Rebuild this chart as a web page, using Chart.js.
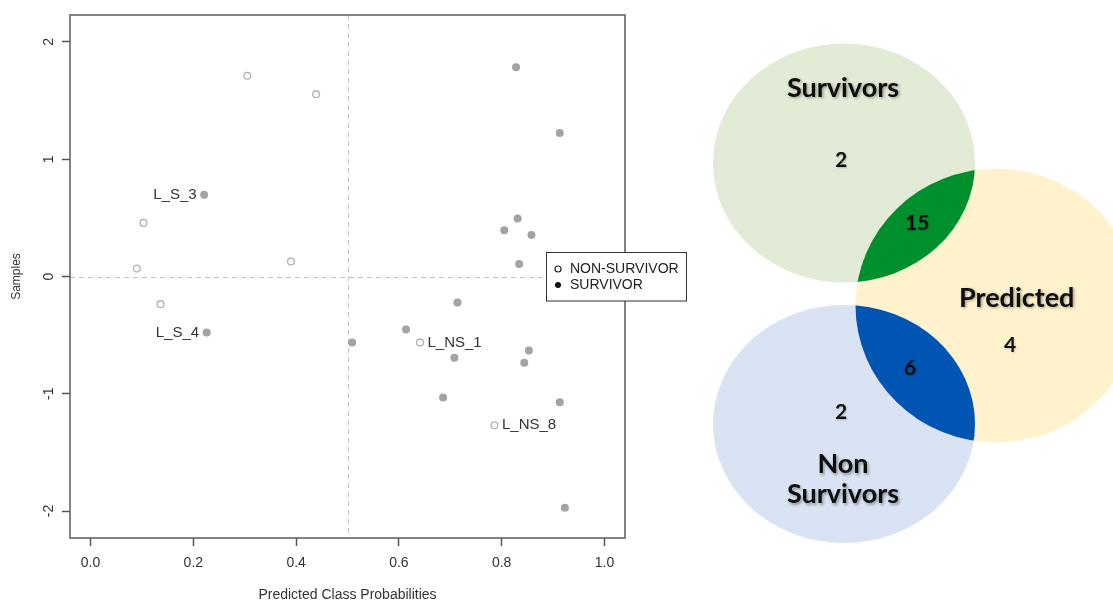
<!DOCTYPE html>
<html>
<head>
<meta charset="utf-8">
<script src="https://cdn.jsdelivr.net/npm/chart.js@4.4.1/dist/chart.umd.min.js"></script>
<style>
  html, body { margin: 0; padding: 0; background: #fff; overflow: hidden; }
  #wrap { position: relative; width: 1113px; height: 602px; }
  #scatterChart { position: absolute; left: 0; top: 0; }
  #vennChart { position: absolute; left: 700px; top: 0; }
</style>
</head>
<body>
<div id="wrap">
  <canvas id="scatterChart" width="700" height="602"></canvas>
  <canvas id="vennChart" width="413" height="602"></canvas>
</div>
<script>
// Predicted class probability (x) and sample score (y) for each group
const nonSurvivorProb   = [0.305, 0.439, 0.103, 0.090, 0.390, 0.136, 0.641, 0.786];
const nonSurvivorSample = [1.712, 1.555, 0.457, 0.068, 0.128, -0.236, -0.562, -1.269];
const nonSurvivorTags   = ['', '', '', '', '', '', 'L_NS_1', 'L_NS_8'];

const survivorProb   = [0.221, 0.226, 0.509, 0.828, 0.913, 0.831, 0.805, 0.858, 0.834,
                        0.714, 0.614, 0.708, 0.853, 0.844, 0.686, 0.913, 0.923];
const survivorSample = [0.698, -0.477, -0.562, 1.785, 1.223, 0.494, 0.394, 0.354, 0.107,
                        -0.221, -0.451, -0.693, -0.630, -0.736, -1.031, -1.073, -1.971];
const survivorTags   = ['L_S_3', 'L_S_4', '', '', '', '', '', '', '', '', '', '', '', '', '', '', ''];

const xTickLabels = ['0.0', '0.2', '0.4', '0.6', '0.8', '1.0'];
const yTickLabels = ['-2', '-1', '0', '1', '2'];
const cutoffProb = 0.5;
const cutoffSample = 0;

// Venn counts
const vennSetNames = ['Survivors', 'Predicted', 'Non Survivors'];
const vennOnlyCounts = [2, 4, 2];
const vennOverlapCounts = [15, 6];   // survivors & predicted, non survivors & predicted

const axisFont = { family: 'Liberation Sans', size: 14 };

// box, cut-off lines, rotated y labels, point tags and legend
const scatterDecor = {
    id: 'scatterDecor',
    beforeDatasetsDraw(chart) {
        const { ctx, chartArea: a, scales: { x, y } } = chart;
        ctx.save();
        ctx.strokeStyle = '#c4c4c4';
        ctx.lineWidth = 1;
        ctx.setLineDash([5, 4]);
        ctx.beginPath();
        const vx = Math.round(x.getPixelForValue(cutoffProb)) + 0.5;
        const hy = Math.round(y.getPixelForValue(cutoffSample)) + 0.5;
        ctx.moveTo(vx, a.top); ctx.lineTo(vx, a.bottom);
        ctx.moveTo(a.left, hy); ctx.lineTo(a.right, hy);
        ctx.stroke();
        ctx.setLineDash([]);
        ctx.strokeStyle = '#5a5a5a';
        ctx.lineWidth = 1.5;
        ctx.strokeRect(a.left, a.top, a.right - a.left, a.bottom - a.top);
        ctx.restore();
    },
    afterDraw(chart) {
        const { ctx, scales: { x, y } } = chart;
        ctx.save();
        ctx.fillStyle = '#333';
        ctx.font = '14px "Liberation Sans"';
        ctx.textAlign = 'center';
        ctx.textBaseline = 'middle';
        y.ticks.forEach((t, i) => {
            ctx.save();
            ctx.translate(49, y.getPixelForValue(t.value));
            ctx.rotate(-Math.PI / 2);
            ctx.fillText(yTickLabels[i], 0, 0);
            ctx.restore();
        });

        ctx.font = '15px "Liberation Sans"';
        ctx.fillStyle = '#333';
        chart.getDatasetMeta(0).data.forEach((pt, i) => {
            if (!nonSurvivorTags[i]) return;
            ctx.textAlign = 'left';
            ctx.fillText(nonSurvivorTags[i], pt.x + 7.5, pt.y);
        });
        chart.getDatasetMeta(1).data.forEach((pt, i) => {
            if (!survivorTags[i]) return;
            ctx.textAlign = 'right';
            ctx.fillText(survivorTags[i], pt.x - 7.5, pt.y);
        });

        // legend box
        const lx = 546.5, ly = 252.5, lw = 140, lh = 48.5;
        ctx.fillStyle = '#fff';
        ctx.fillRect(lx, ly, lw, lh);
        ctx.strokeStyle = '#333';
        ctx.lineWidth = 1;
        ctx.strokeRect(lx, ly, lw, lh);
        ctx.font = '14px "Liberation Sans"';
        ctx.textAlign = 'left';
        chart.data.datasets.forEach((ds, i) => {
            const cy = ly + 16.5 + i * 16;
            ctx.beginPath();
            ctx.arc(lx + 11.5, cy, 3, 0, Math.PI * 2);
            if (i === 0) {
                ctx.strokeStyle = '#222';
                ctx.lineWidth = 1.2;
                ctx.stroke();
            } else {
                ctx.fillStyle = '#111';
                ctx.fill();
            }
            ctx.fillStyle = '#222';
            ctx.fillText(ds.label, lx + 23.5, cy + 0.5);
        });
        ctx.restore();
    }
};

new Chart(document.getElementById('scatterChart'), {
    type: 'scatter',
    data: {
        datasets: [{
            label: 'NON-SURVIVOR',
            data: nonSurvivorProb.map((p, i) => ({ x: p, y: nonSurvivorSample[i] })),
            pointRadius: 3.4,
            borderWidth: 1.3,
            borderColor: '#b3b3b3',
            backgroundColor: '#fff'
        }, {
            label: 'SURVIVOR',
            data: survivorProb.map((p, i) => ({ x: p, y: survivorSample[i] })),
            pointRadius: 4,
            borderWidth: 0,
            borderColor: '#a3a3a3',
            backgroundColor: '#a3a3a3'
        }]
    },
    options: {
        responsive: false,
        animation: false,
        layout: { padding: { left: 0, top: 15, right: 75, bottom: 0 } },
        plugins: {
            legend: { display: false },
            tooltip: { enabled: false }
        },
        scales: {
            x: {
                type: 'linear',
                min: -0.04,
                max: 1.04,
                ticks: {
                    stepSize: 0.2,
                    includeBounds: false,
                    callback: (v, i) => xTickLabels[i],
                    font: axisFont,
                    color: '#333',
                    padding: 9,
                    maxRotation: 0
                },
                grid: {
                    drawOnChartArea: false,
                    drawTicks: true,
                    tickLength: 8,
                    tickColor: '#555',
                    tickWidth: 1.5
                },
                border: { display: false },
                title: {
                    display: true,
                    text: 'Predicted Class Probabilities',
                    color: '#333',
                    font: { family: 'Liberation Sans', size: 14, lineHeight: 1 },
                    padding: { top: 0, bottom: 0 }
                },
                afterFit: s => { s.height = 64; }
            },
            y: {
                type: 'linear',
                min: -2.23,
                max: 2.23,
                ticks: {
                    stepSize: 1,
                    includeBounds: false,
                    font: axisFont,
                    color: 'rgba(0,0,0,0)'
                },
                grid: {
                    drawOnChartArea: false,
                    drawTicks: true,
                    tickLength: 8,
                    tickColor: '#555',
                    tickWidth: 1.5
                },
                border: { display: false },
                title: {
                    display: true,
                    text: 'Samples',
                    color: '#333',
                    font: { family: 'Liberation Sans', size: 12, lineHeight: 1 },
                    padding: { top: 11, bottom: 0 }
                },
                afterFit: s => { s.width = 70; }
            }
        }
    },
    plugins: [scatterDecor]
});

// Venn drawing on a blank scatter whose scales run in layout units
const vennDecor = {
    id: 'vennDecor',
    afterDraw(chart) {
        const { ctx, scales: { x, y } } = chart;
        const sets = [
            { cx: 144, cy: 163, rx: 131, ry: 119.5, fill: '#e2ebd6' },
            { cx: 296.5, cy: 305.5, rx: 141, ry: 137, fill: '#fff2cc' },
            { cx: 144, cy: 424, rx: 131, ry: 119, fill: '#dae3f3' }
        ];
        const lensFill = ['#008f2d', '#0055b2'];
        const shape = s => {
            const cx = x.getPixelForValue(s.cx), cy = y.getPixelForValue(s.cy);
            ctx.beginPath();
            ctx.ellipse(cx, cy, Math.abs(x.getPixelForValue(s.cx + s.rx) - cx),
                Math.abs(y.getPixelForValue(s.cy + s.ry) - cy), 0, 0, Math.PI * 2);
        };
        ctx.save();
        [1, 0, 2].forEach(k => { shape(sets[k]); ctx.fillStyle = sets[k].fill; ctx.fill(); });
        [0, 2].forEach((k, i) => {
            ctx.save();
            shape(sets[k]); ctx.clip();
            shape(sets[1]); ctx.fillStyle = lensFill[i]; ctx.fill();
            ctx.restore();
        });

        ctx.fillStyle = '#0d0d0d';
        ctx.textAlign = 'center';
        ctx.textBaseline = 'alphabetic';
        ctx.shadowColor = 'rgba(0,0,0,0.35)';
        ctx.shadowBlur = 3;
        ctx.shadowOffsetX = 1.5;
        ctx.shadowOffsetY = 1.5;

        const namePos = [{ x: 143, y: [96.7] }, { x: 316.7, y: [306.7] }, { x: 143, y: [473.3, 503.3] }];
        ctx.font = 'bold 27px Lato';
        vennSetNames.forEach((name, k) => {
            name.split(' ').forEach((line, j) => {
                ctx.fillText(line, x.getPixelForValue(namePos[k].x), y.getPixelForValue(namePos[k].y[j]));
            });
        });

        ctx.shadowColor = 'rgba(0,0,0,0.2)';
        ctx.shadowBlur = 2;
        ctx.shadowOffsetX = 1;
        ctx.shadowOffsetY = 1;
        ctx.font = 'bold 21px Lato';
        const onlyPos = [{ x: 141, y: 166.7 }, { x: 310, y: 351.7 }, { x: 141, y: 419.3 }];
        vennOnlyCounts.forEach((n, k) => {
            ctx.fillText(String(n), x.getPixelForValue(onlyPos[k].x), y.getPixelForValue(onlyPos[k].y));
        });
        const lensPos = [{ x: 217.3, y: 230 }, { x: 210, y: 375 }];
        vennOverlapCounts.forEach((n, k) => {
            ctx.fillText(String(n), x.getPixelForValue(lensPos[k].x), y.getPixelForValue(lensPos[k].y));
        });
        ctx.restore();
    }
};

new Chart(document.getElementById('vennChart'), {
    type: 'scatter',
    data: { datasets: [] },
    options: {
        responsive: false,
        animation: false,
        layout: { padding: 0 },
        plugins: {
            legend: { display: false },
            tooltip: { enabled: false }
        },
        scales: {
            x: { display: false, min: 0, max: 413 },
            y: { display: false, min: 0, max: 602, reverse: true }
        }
    },
    plugins: [vennDecor]
});
</script>
</body>
</html>
